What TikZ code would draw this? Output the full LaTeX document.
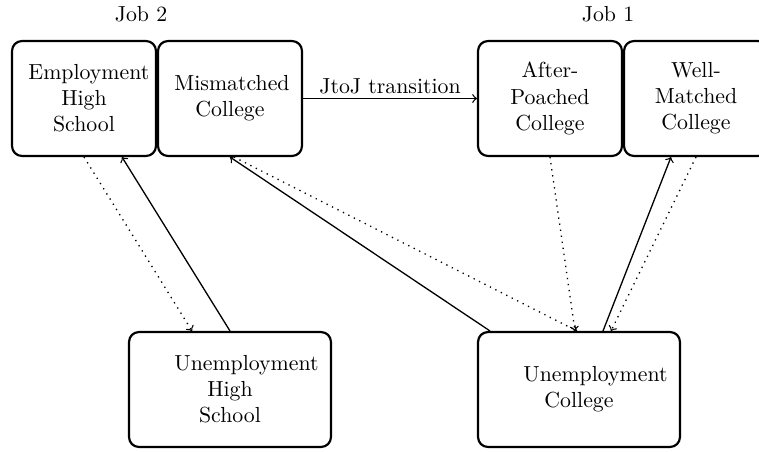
\documentclass[tikz,border=0pt]{standalone}
\usetikzlibrary{calc}
\begin{document}
\begin{tikzpicture}[x=0.4587pt,y=-0.4587pt,
  state/.style={draw, line width=1pt, rounded corners=4.5pt, text width=51pt, align=center, inner sep=0pt, minimum height=52.7pt},
  topbox/.style={state, minimum width=66pt},
  unbox/.style={state, minimum width=92.6pt},
  flow/.style={->, line width=0.6pt},
  sep/.style={->, line width=0.6pt, dash pattern=on 0.6pt off 2.2pt}]
\path[use as bounding box, clip] (0,0) rectangle (759,451);
\node[topbox] (ehs) at (84,98.5) {Employment\\High\\School};
\node[topbox] (mc) at (230,98.5) {Mismatched\\College};
\node[topbox] (apc) at (550,98.5) {After-\\Poached\\College};
\node[topbox] (wmc) at (696,98.5) {Well-\\Matched\\College};
\node[unbox] (uhs) at (230,389.5) {Unemployment\\High\\School};
\node[unbox] (uc) at (579,389.5) {Unemployment\\College};
\node (job2) at (141,14) {Job 2};
\node (job1) at (608,14) {Job 1};
\draw[flow] (mc.east) -- node[above, inner sep=2pt] (jtoj) {JtoJ transition} (apc.west);
\draw[sep] (ehs.south) -- ($(uhs.north)+(-38,0)$);
\draw[flow] (uhs.north) -- ($(ehs.south)+(38,0)$);
\draw[flow] ($(uc.north)+(-89,0)$) -- (mc.south);
\draw[sep] ($(mc.south)+(4,0)$) -- ($(uc.north)+(-2,0)$);
\draw[sep] (apc.south) -- ($(uc.north)+(-4,0)$);
\draw[flow] ($(uc.north)+(24,0)$) -- ($(wmc.south)+(-25,0)$);
\draw[sep] (wmc.south) -- ($(uc.north)+(32,0)$);
\end{tikzpicture}
\end{document}
